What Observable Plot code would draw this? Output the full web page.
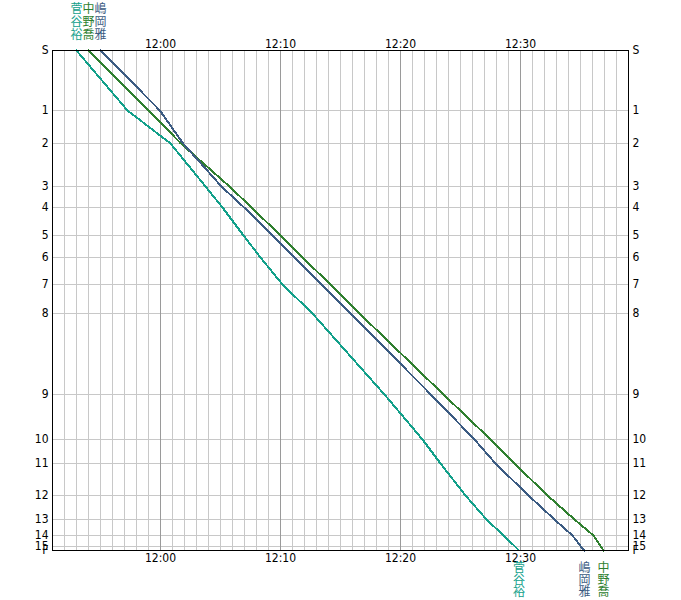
<!DOCTYPE html>
<html>
<head>
<meta charset="utf-8">
<script src="https://cdn.jsdelivr.net/npm/d3@7"></script>
<script src="https://cdn.jsdelivr.net/npm/@observablehq/plot@0.6"></script>
<style>
  html, body { margin: 0; padding: 0; background: #fff; }
</style>
</head>
<body>
<div id="chart"></div>
<script>
// Stations (control points) and their cumulative course positions
const stations = ["S","1","2","3","4","5","6","7","8","9","10","11","12","13","14","15","F"];
const distances = [0, 60, 93, 136, 157, 185, 207, 234, 263, 344, 389, 413, 445, 469, 485, 495.5, 500];

// Runners and colours
const runners = ["菅谷裕", "中野喬", "嶋岡雅"];
const runnerColors = ["#12a08a", "#2f7f2f", "#3b5b82"];

// Passing times at each station
const splitsSugaya   = ["11:53:00","11:57:15","12:00:50","12:03:45","12:05:10","12:06:55","12:08:20","12:10:10","12:12:40","12:18:40","12:21:50","12:23:20","12:25:25","12:27:10","12:28:35","12:29:30","12:29:52"];
const splitsNakano   = ["11:54:00","11:59:02","12:01:42","12:05:45","12:07:35","12:10:00","12:11:50","12:14:10","12:16:35","12:23:35","12:27:30","12:29:30","12:32:15","12:34:30","12:36:05","12:36:40","12:36:55"];
const splitsShimaoka = ["11:55:00","11:59:57","12:01:53","12:05:05","12:06:58","12:09:20","12:11:10","12:13:25","12:15:50","12:22:32","12:26:10","12:27:55","12:30:40","12:32:50","12:34:20","12:35:00","12:35:20"];

// Time axis extent
const timeStart = "11:51:00";
const timeEnd = "12:39:00";

const toDate = s => { const [h, m, sec] = s.split(":").map(Number); return new Date(Date.UTC(2000, 0, 1, h, m, sec)); };
const allSplits = [splitsSugaya, splitsNakano, splitsShimaoka];
const rows = [];
runners.forEach((r, i) => allSplits[i].forEach((t, j) => rows.push({runner: r, time: toDate(t), dist: distances[j], station: stations[j]})));
const starts = runners.map((r, i) => ({runner: r, time: toDate(allSplits[i][0])}));
const finishes = runners.map((r, i) => ({runner: r, time: toDate(allSplits[i][allSplits[i].length - 1])}));

const x0 = toDate(timeStart), x1 = toDate(timeEnd);
const minuteTicks = d3.utcMinute.every(1).range(x0, new Date(+x1 + 1));
const tenTicks = d3.utcMinute.every(10).range(x0, new Date(+x1 + 1));
const labelOf = new Map(distances.map((d, i) => [d, stations[i]]));
const fmt = d3.utcFormat("%H:%M");
const vert = s => s.split("").join("\n");

const tickFont = "'Liberation Sans Narrow', 'DejaVu Sans Condensed', 'Liberation Sans', sans-serif";
const cjkFont = "'Noto Sans CJK JP', sans-serif";

const chart = Plot.plot({
  width: 681,
  height: 600,
  marginLeft: 52,
  marginRight: 53,
  marginTop: 50,
  marginBottom: 50,
  style: {fontSize: "12px", fontFamily: tickFont, background: "#fff", color: "#000"},
  x: {type: "utc", domain: [x0, x1], axis: null},
  y: {domain: [0, 500], reverse: true, axis: null},
  color: {domain: runners, range: runnerColors},
  marks: [
    Plot.gridY(distances, {stroke: "#c8c8c8", strokeOpacity: 1, shapeRendering: "crispEdges"}),
    Plot.gridX(minuteTicks, {stroke: "#c8c8c8", strokeOpacity: 1, shapeRendering: "crispEdges"}),
    Plot.gridX(tenTicks, {stroke: "#9a9a9a", strokeOpacity: 1, shapeRendering: "crispEdges"}),
    Plot.axisX(tenTicks, {anchor: "top", tickSize: 0, tickPadding: 3, tickFormat: fmt, label: null}),
    Plot.axisX(tenTicks, {anchor: "bottom", tickSize: 0, tickPadding: 3, tickFormat: fmt, label: null}),
    Plot.axisY(distances, {anchor: "left", tickSize: 0, tickPadding: 4, tickFormat: d => labelOf.get(d), label: null}),
    Plot.axisY(distances, {anchor: "right", tickSize: 0, tickPadding: 4, tickFormat: d => labelOf.get(d), label: null}),
    Plot.line(rows, {x: "time", y: "dist", z: "runner", stroke: "runner", strokeWidth: 2, shapeRendering: "crispEdges"}),
    Plot.frame({stroke: "#000", shapeRendering: "crispEdges"}),
    Plot.text(starts, {x: "time", text: d => vert(d.runner), fill: "runner", frameAnchor: "top", lineAnchor: "top", dy: -46, fontSize: 12, lineHeight: 1.05, fontFamily: cjkFont}),
    Plot.text(finishes, {x: "time", text: d => vert(d.runner), fill: "runner", frameAnchor: "bottom", lineAnchor: "top", dy: 13, fontSize: 12, lineHeight: 1.0, fontFamily: cjkFont})
  ]
});
document.getElementById("chart").appendChild(chart);
</script>
</body>
</html>
